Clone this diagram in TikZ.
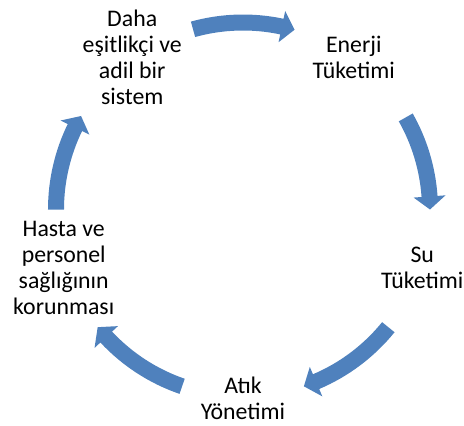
\documentclass[tikz,border=0pt]{standalone}
\usepackage{fontspec}
\setmainfont{Carlito}
\definecolor{arrowblue}{HTML}{4F81BD}
\newcommand\cyclearrow[3]{%
  \fill[cyc] (#1:179) arc[start angle=#1,end angle=#2,radius=179]
    -- (#2:171) -- (#3:187) -- (#2:203) -- (#2:195)
    arc[start angle=#2,end angle=#1,radius=195] -- cycle;}
\begin{document}
\begin{tikzpicture}[x=1pt,y=1pt,
  item/.style={align=center, font=\fontsize{23.8}{26}\selectfont, inner sep=0pt, text=black},
  cyc/.style={fill=arrowblue}]
\useasboundingbox (-243,-216.5) rectangle (221,209.5);
\node[item] (a) at (126:188.5) {Daha\\eşitlikçi ve\\adil bir\\sistem};
\node[item] (e) at (54:188.5) {Enerji\\Tüketimi};
\node[item] (s) at (-18:188.5) {Su\\Tüketimi};
\node[item] (t) at (-90:188.5) {Atık\\Yönetimi};
\node[item] (h) at (198:188.5) {Hasta ve\\personel\\sağlığının\\korunması};
\cyclearrow{105.5}{78}{74}
\cyclearrow{29.5}{4}{0}
\cyclearrow{-39}{-67}{-71}
\cyclearrow{-109}{-137}{-141}
\cyclearrow{180}{154}{150}
\end{tikzpicture}
\end{document}
